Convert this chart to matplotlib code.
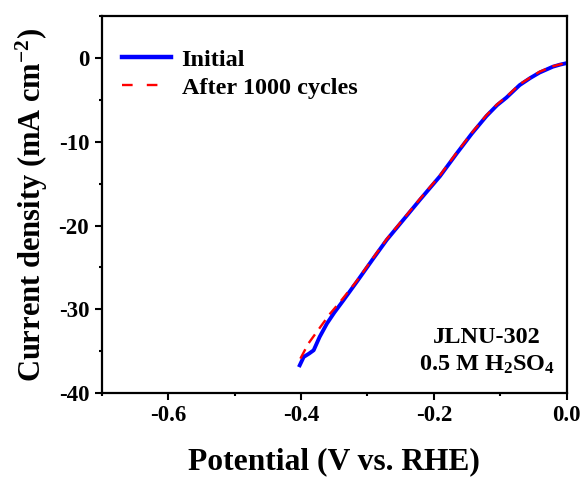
import matplotlib
matplotlib.use("Agg")
import matplotlib.pyplot as plt
from matplotlib.ticker import MultipleLocator

plt.rcParams['font.family'] = ['Liberation Serif', 'DejaVu Serif']
plt.rcParams['font.weight'] = 'bold'
plt.rcParams['axes.unicode_minus'] = False
plt.rcParams['mathtext.fontset'] = 'custom'
plt.rcParams['mathtext.rm'] = 'Liberation Serif:bold'
plt.rcParams['mathtext.it'] = 'Liberation Serif:bold'
plt.rcParams['mathtext.bf'] = 'Liberation Serif:bold'
plt.rcParams['mathtext.default'] = 'rm'

# Data
v_initial = [-0.402, -0.396, -0.388, -0.381, -0.372, -0.361, -0.350, -0.336, -0.326,
             -0.316, -0.291, -0.271, -0.246, -0.221, -0.191, -0.166, -0.143, -0.121,
             -0.105, -0.091, -0.071, -0.055, -0.041, -0.021, -0.010, 0.0]
j_initial = [-36.7, -35.7, -35.3, -34.9, -33.3, -31.7, -30.4, -28.9, -27.8,
             -26.7, -23.9, -21.7, -19.3, -16.9, -14.1, -11.4, -9.0, -6.9,
             -5.6, -4.7, -3.2, -2.35, -1.7, -1.0, -0.75, -0.57]
v_after = [-0.401, -0.389, -0.379, -0.368, -0.356, -0.340, -0.326, -0.316, -0.291,
           -0.271, -0.246, -0.221, -0.191, -0.166, -0.143, -0.121, -0.105, -0.091,
           -0.071, -0.055, -0.041, -0.021, -0.010, 0.0]
j_after = [-35.9, -34.1, -33.0, -31.8, -30.5, -29.0, -27.6, -26.6, -23.8,
           -21.6, -19.2, -16.8, -14.0, -11.3, -8.9, -6.8, -5.5, -4.6,
           -3.1, -2.3, -1.6, -0.95, -0.72, -0.55]
x_ticks = [-0.6, -0.4, -0.2, 0.0]
y_ticks = [0, -10, -20, -30, -40]

fig = plt.figure(figsize=(5.85, 4.78), dpi=100)
ax = fig.add_axes([0.1738, 0.178, 0.969 - 0.1738, 0.9655 - 0.178])

ax.plot(v_initial, j_initial, color='#0000ff', lw=2.8, label='Initial')
ax.plot(v_after, j_after, color='#ff0000', lw=1.7, ls=(0, (4.5, 3)), label='After 1000 cycles')

ax.set_xlim(-0.7, 0.0)
ax.set_ylim(-40, 5)
ax.set_xticks(x_ticks)
ax.set_yticks(y_ticks)
ax.set_xticklabels([f'{t:.1f}' for t in x_ticks])
ax.xaxis.set_minor_locator(MultipleLocator(0.1))
ax.yaxis.set_minor_locator(MultipleLocator(5))
ax.tick_params(which='major', direction='out', length=5, width=1.5, labelsize=16.5, pad=4)
ax.tick_params(which='minor', direction='out', length=2.5, width=1.5)
for s in ax.spines.values():
    s.set_linewidth(1.6)

ax.set_xlabel('Potential (V vs. RHE)', fontsize=22.7, fontweight='bold', labelpad=15)
ax.set_ylabel('Current density (mA cm$^{-2}$)', fontsize=22, fontweight='bold', labelpad=6)

leg = ax.legend(loc='upper left', frameon=False, fontsize=17.5, handlelength=2.0,
                handletextpad=0.45, bbox_to_anchor=(0.0436, 0.914), borderaxespad=0,
                borderpad=0, labelspacing=0.25)
leg.get_lines()[0].set_linewidth(3.2)
leg.get_lines()[1].set_linestyle((0, (4.5, 6)))

ax.text(0.828, 0.045, 'JLNU-302\n0.5 M H$_2$SO$_4$', transform=ax.transAxes,
        ha='center', va='bottom', fontsize=17.5, fontweight='bold', linespacing=1.35)

fig.savefig('out.png', dpi=100)
